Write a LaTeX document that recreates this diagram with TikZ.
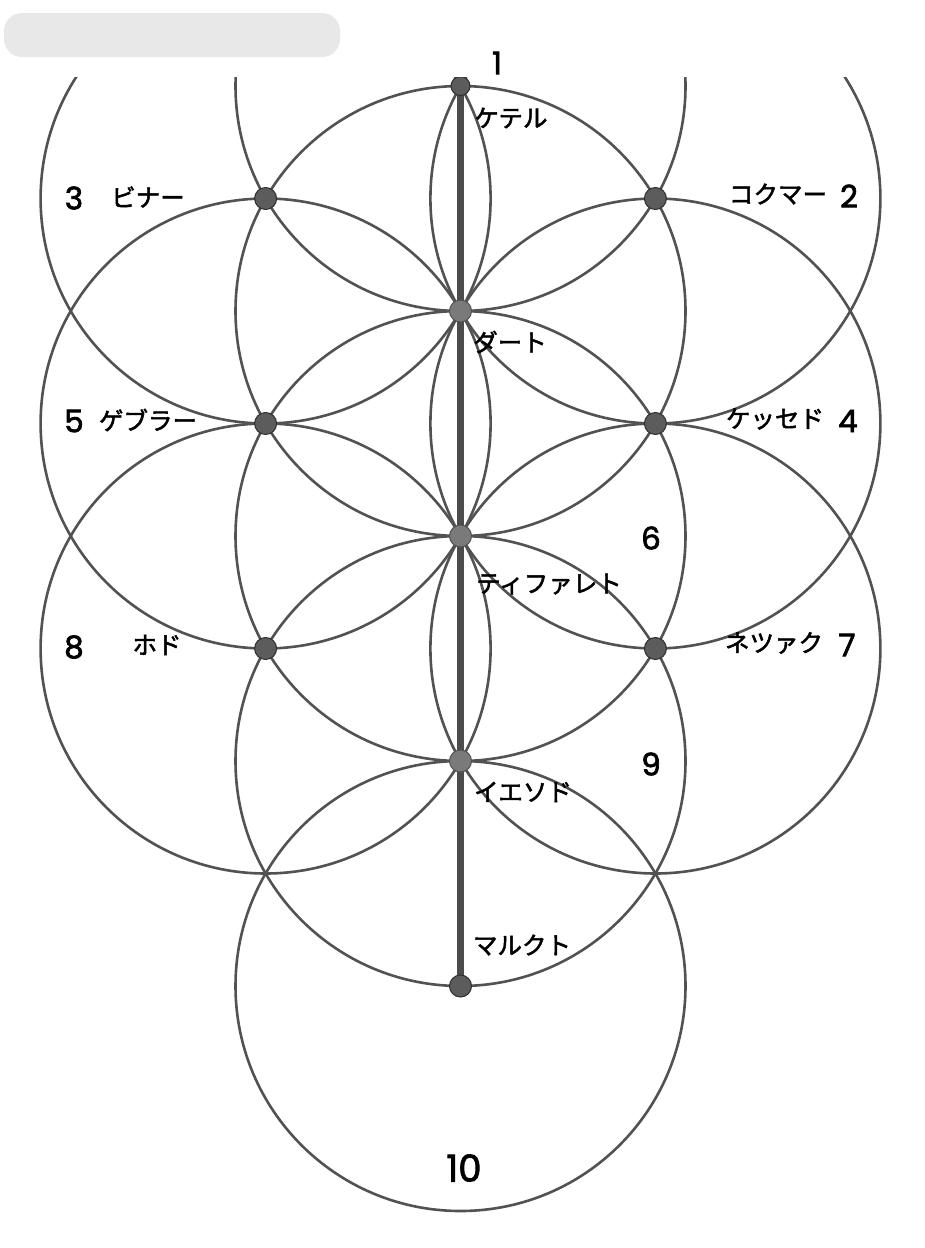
\documentclass[tikz,border=0pt]{standalone}
\usepackage{fontspec}
\newfontfamily\jp[FakeBold=2]{Noto Sans CJK JP}
\newfontfamily\digits[FakeBold=2.2]{Poppins}
\begin{document}
\begin{tikzpicture}[x=1pt,y=-1pt,
  ring/.style={draw=black!68,line width=2.6pt},
  axisline/.style={draw=black!70,line width=7pt},
  dot/.style={circle,fill=black!64,draw=black!82,line width=1pt,inner sep=0pt,minimum size=22pt},
  cdot/.style={dot,fill=black!52,draw=black!68},
  jlab/.style={font=\jp\fontsize{24.5}{24.5}\selectfont,inner sep=0pt},
  num/.style={font=\digits\fontsize{31}{31}\selectfont,inner sep=0pt},
  bignum/.style={font=\digits\fontsize{37}{37}\selectfont,inner sep=0pt}]
\useasboundingbox (0,0) rectangle (925,1248);
\fill[white] (0,0) rectangle (925,1248);
\fill[black!9,rounded corners=18pt] (4,13) rectangle (340,57);
% lattice points
\coordinate (pK) at (460.5,86);
\coordinate (pD) at (460.5,311);
\coordinate (pT) at (460.5,536);
\coordinate (pY) at (460.5,761);
\coordinate (pM) at (460.5,986);
\coordinate (pB) at (265.6,198.5);
\coordinate (pC) at (655.4,198.5);
\coordinate (pG) at (265.6,423.5);
\coordinate (pH) at (655.4,423.5);
\coordinate (pHo) at (265.6,648.5);
\coordinate (pN) at (655.4,648.5);
\begin{scope}
\clip (0,77) rectangle (925,1248);
\foreach \p in {pK,pD,pT,pY,pM,pB,pC,pG,pH,pHo,pN}
  \draw[ring] (\p) circle[radius=225pt];
\draw[axisline] (pK) -- (pM);
\node[dot,minimum size=19pt] (nK) at (pK) {};
\node[cdot] (nD) at (pD) {};
\node[cdot] (nT) at (pT) {};
\node[cdot] (nY) at (pY) {};
\node[dot] (nM) at (pM) {};
\node[dot] (nB) at (pB) {};
\node[dot] (nC) at (pC) {};
\node[dot] (nG) at (pG) {};
\node[dot] (nH) at (pH) {};
\node[dot] (nHo) at (pHo) {};
\node[dot] (nN) at (pN) {};
\end{scope}
% labels
\node[num] (l1) at (497,63) {1};
\node[jlab] (lK) at (511,118) {ケテル};
\node[num] (l3) at (74,198) {3};
\node[jlab] (lB) at (148,197) {ビナー};
\node[jlab] (lC) at (778,194) {コクマー};
\node[num] (l2) at (849,196) {2};
\node[jlab] (lD) at (510,342) {ダート};
\node[num] (l5) at (74,421) {5};
\node[jlab] (lG) at (148,420) {ゲブラー};
\node[jlab] (lH) at (775,419) {ケッセド};
\node[num] (l4) at (848,421) {4};
\node[num] (l6) at (651,538) {6};
\node[jlab] (lT) at (549,584) {ティファレト};
\node[num] (l8) at (74,647) {8};
\node[jlab] (lHo) at (157,645) {ホド};
\node[jlab] (lN) at (774,643) {ネツァク};
\node[num] (l7) at (847,645) {7};
\node[num] (l9) at (651,764) {9};
\node[jlab] (lY) at (523,792) {イエソド};
\node[jlab] (lM) at (522,945) {マルクト};
\node[bignum] (l10) at (464,1168) {10};
\end{tikzpicture}
\end{document}
